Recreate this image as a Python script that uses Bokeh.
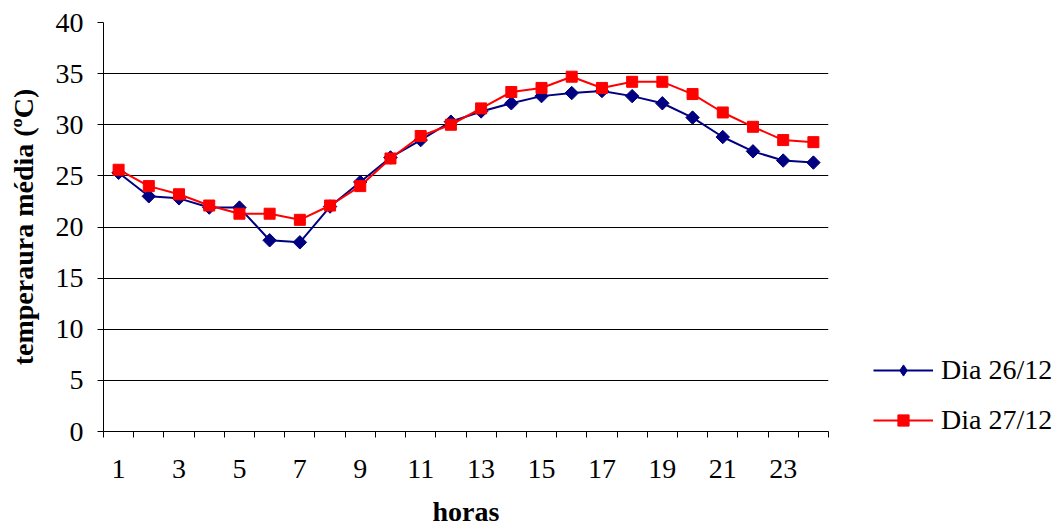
import math
from bokeh.plotting import figure
from bokeh.models import Range1d, FixedTicker, Legend, LegendItem
from bokeh.embed import file_html
from bokeh.resources import INLINE

hours = list(range(1, 25))
dia26 = [25.3, 23.0, 22.8, 21.9, 21.9, 18.7, 18.5, 22.0, 24.4, 26.8, 28.5, 30.3,
         31.3, 32.1, 32.8, 33.1, 33.3, 32.8, 32.1, 30.7, 28.8, 27.4, 26.5, 26.3]
dia27 = [25.6, 24.0, 23.2, 22.1, 21.3, 21.3, 20.7, 22.1, 24.0, 26.7, 28.9, 30.0,
         31.6, 33.2, 33.6, 34.7, 33.6, 34.2, 34.2, 33.0, 31.2, 29.8, 28.5, 28.3]
x_label_ticks = list(range(1, 24, 2))
x_boundaries = [h - 0.5 for h in hours] + [24.5]
y_ticks = [0, 5, 10, 15, 20, 25, 30, 35, 40]
series_names = ["Dia 26/12", "Dia 27/12"]

FONT = "Liberation Serif, Times New Roman, serif"
FS = "28px"

p = figure(frame_width=725, frame_height=409, output_backend="svg", toolbar_location=None,
           x_range=Range1d(0.5, 24.5), y_range=Range1d(0, 40),
           min_border_left=103, min_border_right=10, min_border_top=22, min_border_bottom=95)
p.outline_line_color = None
p.background_fill_color = "white"
p.border_fill_color = "white"

p.xgrid.visible = False
p.ygrid.grid_line_color = "#000000"
p.ygrid.grid_line_width = 1
p.ygrid.ticker = FixedTicker(ticks=y_ticks)

xa = p.xaxis[0]
xa.ticker = FixedTicker(ticks=x_label_ticks, minor_ticks=x_boundaries)
xa.major_tick_out = 0
xa.major_tick_in = 0
xa.minor_tick_out = 6
xa.minor_tick_in = 0
xa.minor_tick_line_color = "#000000"
xa.axis_line_color = "#000000"
xa.major_label_text_font = FONT
xa.major_label_text_font_size = FS
xa.major_label_text_color = "#000000"
xa.major_label_standoff = 22
xa.axis_label = "horas"
xa.axis_label_text_font = FONT
xa.axis_label_text_font_style = "bold"
xa.axis_label_text_font_size = FS
xa.axis_label_text_color = "#000000"
xa.axis_label_standoff = 15

ya = p.yaxis[0]
ya.ticker = FixedTicker(ticks=y_ticks, minor_ticks=[])
ya.major_tick_out = 6
ya.major_tick_in = 0
ya.minor_tick_out = 0
ya.major_tick_line_color = "#000000"
ya.axis_line_color = "#000000"
ya.major_label_text_font = FONT
ya.major_label_text_font_size = FS
ya.major_label_text_color = "#000000"
ya.major_label_standoff = 14
ya.axis_label = "temperaura média (ºC)"
ya.axis_label_text_font = FONT
ya.axis_label_text_font_style = "bold"
ya.axis_label_text_font_size = FS
ya.axis_label_text_color = "#000000"
ya.axis_label_standoff = 14

l1 = p.line(hours, dia26, line_color="#000080", line_width=2)
m1 = p.scatter(hours, dia26, marker="square", angle=math.pi / 4, size=9.5,
               fill_color="#000080", line_color="#000080")
l2 = p.line(hours, dia27, line_color="#FF0000", line_width=2)
m2 = p.scatter(hours, dia27, marker="square", size=11, fill_color="#FF0000", line_color="#FF0000")
# legend-only diamond glyph (a single undefined point, never drawn in the plot)
m1_leg = p.scatter([float("nan")], [float("nan")], marker="diamond", size=15,
                   fill_color="#000080", line_color="#000080")

legend = Legend(items=[LegendItem(label=series_names[0], renderers=[l1, m1_leg]),
                       LegendItem(label=series_names[1], renderers=[l2, m2])],
                location="bottom_left", border_line_color=None, background_fill_alpha=0,
                label_text_font=FONT, label_text_font_size=FS, label_text_color="#000000",
                glyph_width=60, glyph_height=28, label_height=28, label_standoff=8, spacing=18,
                margin=0, padding=0)
legend.location = (45, -5)
p.add_layout(legend, "right")

open("out.html", "w").write(file_html(p, INLINE))
